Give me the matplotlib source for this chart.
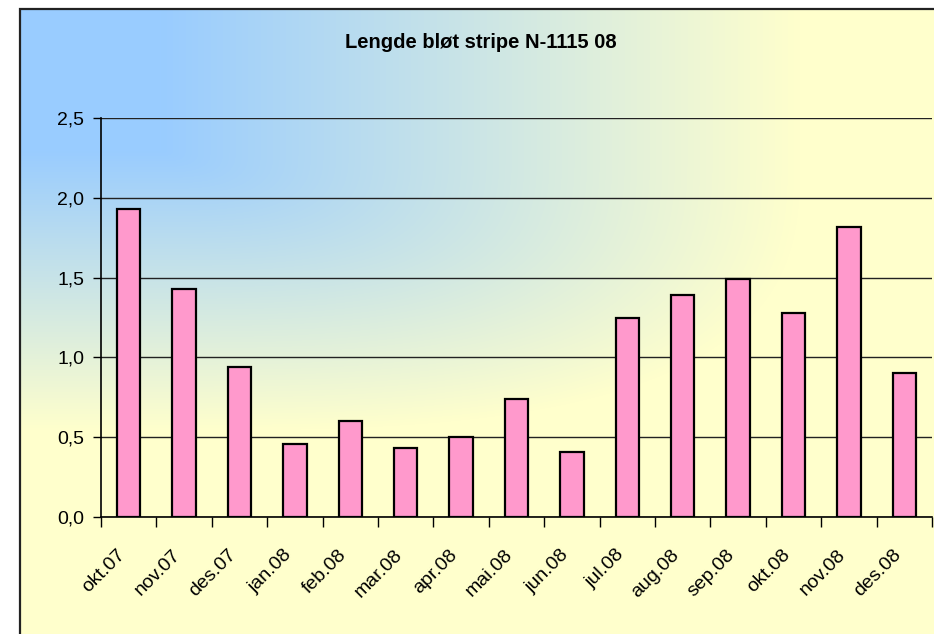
#!/usr/bin/env python3
"""Lengde bløt stripe N-1115 08 - monthly bar chart."""

import numpy as np
import matplotlib

matplotlib.use("Agg")
import matplotlib.pyplot as plt
from matplotlib.patches import Rectangle

months = ["okt.07", "nov.07", "des.07", "jan.08", "feb.08", "mar.08", "apr.08",
          "mai.08", "jun.08", "jul.08", "aug.08", "sep.08", "okt.08", "nov.08",
          "des.08"]
lengths = [1.93, 1.43, 0.94, 0.46, 0.60, 0.43, 0.50, 0.74, 0.41, 1.25, 1.39,
           1.49, 1.28, 1.82, 0.90]
y_ticks = [0.0, 0.5, 1.0, 1.5, 2.0, 2.5]
title = "Lengde bløt stripe N-1115 08"

plt.rcParams["font.family"] = ["Liberation Sans", "DejaVu Sans"]

W, H = 934, 634
fig = plt.figure(figsize=(W / 100, H / 100), dpi=100, facecolor="white")

# background: corner gradient blue -> pale yellow inside a frame
fx0, fy0 = 20, 9  # frame left / top in pixels
bg = fig.add_axes([fx0 / W, 0, 1 - fx0 / W, (H - fy0) / H])
bg.set_axis_off()
xs = np.arange(fx0, W)
ys = np.arange(fy0, H)
X, Y = np.meshgrid(xs, ys)
tx = np.clip((X - 160) / 640, 0, 1)
ty = np.clip((Y - 150) / 280, 0, 1)
t = np.clip((tx ** 3 + ty ** 3) ** (1 / 3), 0, 1)[..., None]
c0 = np.array([0x99, 0xCC, 0xFF]) / 255
c1 = np.array([0xFF, 0xFF, 0xCC]) / 255
img = c0 * (1 - t) + c1 * t
bg.imshow(img, aspect="auto", extent=[0, 1, 0, 1], interpolation="bilinear")
fig.patches.append(Rectangle((fx0 / W, -0.01), 1.1, (H - fy0) / H + 0.01,
                             transform=fig.transFigure, fill=False,
                             edgecolor="#222222", lw=1.6, zorder=5))

ax = fig.add_axes([101 / W, (H - 517) / H, (932 - 101) / W, (517 - 118) / H])
ax.set_facecolor("none")
x = np.arange(len(months))
ax.bar(x, lengths, width=0.42, color="#FF99CC", edgecolor="black", lw=1.6,
       zorder=3)

ax.set_xlim(-0.5, len(months) - 0.5)
ax.set_ylim(0, 2.5)
ax.set_yticks(y_ticks)
ax.set_yticklabels([f"{v:.1f}".replace(".", ",") for v in y_ticks], fontsize=14)
ax.yaxis.grid(True, color="#222222", lw=1.0)
ax.set_axisbelow(True)

# ticks at category boundaries, labels at centres
ax.set_xticks(np.arange(len(months) + 1) - 0.5)
ax.set_xticklabels([])
ax.set_xticks(x, minor=True)
ax.set_xticklabels(months, minor=True, rotation=45, ha="right", fontsize=14)
ax.tick_params(axis="x", which="major", length=7, width=1, direction="out")
ax.tick_params(axis="x", which="minor", length=0, pad=21)
ax.tick_params(axis="y", length=6, width=1, pad=6)

for s in ["top", "right"]:
    ax.spines[s].set_visible(False)
ax.spines["left"].set_linewidth(1.2)
ax.spines["bottom"].set_linewidth(1.2)

fig.text(481 / W, 1 - 42 / H, title, ha="center", va="center",
         fontsize=14.5, fontweight="bold")

fig.savefig("out.png", dpi=100)
